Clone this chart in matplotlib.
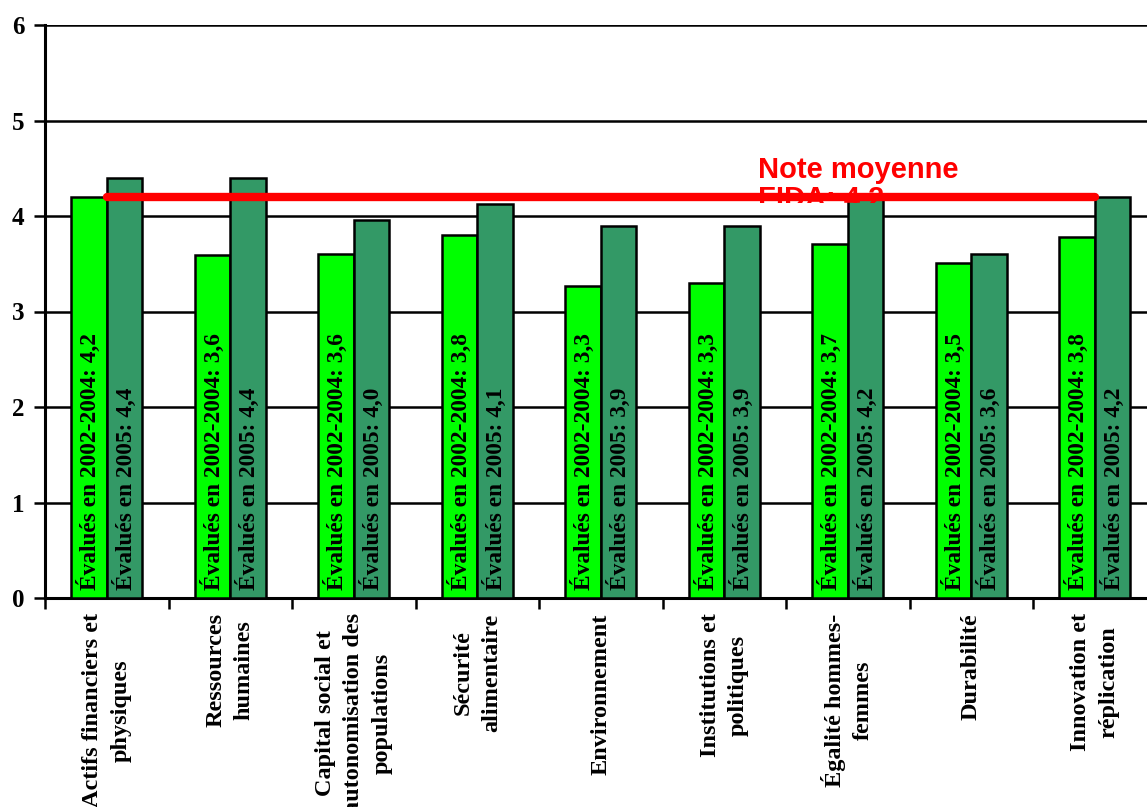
import matplotlib.pyplot as plt
import numpy as np
from matplotlib.transforms import Bbox, TransformedBbox

# Notes moyennes par critère d'évaluation
criteres = ["Actifs financiers et\nphysiques",
            "Ressources\nhumaines",
            "Capital social et\nautonomisation des\npopulations",
            "Sécurité\nalimentaire",
            "Environnement",
            "Institutions et\npolitiques",
            "Égalité hommes-\nfemmes",
            "Durabilité",
            "Innovation et\nréplication"]
notes_2002_2004 = [4.2, 3.59, 3.6, 3.8, 3.27, 3.3, 3.71, 3.51, 3.78]
notes_2005 = [4.4, 4.4, 3.96, 4.13, 3.9, 3.9, 4.2, 3.6, 4.2]
note_moyenne = 4.2

vert_clair = "#00FF00"
vert_fonce = "#339966"
serif = "Liberation Serif"

fig = plt.figure(figsize=(11.47, 8.07), dpi=100)
ax = fig.add_axes([45 / 1147, 209 / 807, 1111.5 / 1147, 573 / 807])

x = np.arange(len(criteres))
larg = 0.287

ax.bar(x - larg / 2, notes_2002_2004, larg, color=vert_clair,
       edgecolor="black", linewidth=1.8, zorder=3)
ax.bar(x + larg / 2, notes_2005, larg, color=vert_fonce,
       edgecolor="black", linewidth=1.8, zorder=3)

# Étiquettes verticales dans les barres
for xi, v in zip(x, notes_2002_2004):
    ax.text(xi - larg / 2, 0.08, f"Évalués en 2002-2004: {v:.1f}".replace(".", ","),
            rotation=90, ha="center", va="bottom", fontsize=16.8,
            fontweight="bold", family=serif, zorder=4)
for xi, v in zip(x, notes_2005):
    ax.text(xi + larg / 2, 0.08, f"Évalués en 2005: {v:.1f}".replace(".", ","),
            rotation=90, ha="center", va="bottom", fontsize=16.8,
            fontweight="bold", family=serif, zorder=4)

# Ligne de la note moyenne
ax.plot([x[0], x[-1]], [note_moyenne, note_moyenne], color="#FF0000",
        linewidth=6, solid_capstyle="round", zorder=6)
t = ax.text(5.27, note_moyenne + 0.43,
            "Note moyenne\nFIDA: " + f"{note_moyenne:.1f}".replace(".", ","),
            color="#FF0000", fontsize=21, fontweight="bold",
            family="Liberation Sans", ha="left", va="top",
            linespacing=1.05, zorder=5)
# la zone de texte coupe la deuxième ligne sous la ligne rouge
t.set_clip_box(TransformedBbox(Bbox([[-0.5, 4.14], [8.5, 6.0]]), ax.transData))
t.set_clip_on(True)

ax.set_xlim(-0.5, 8.5)
ax.set_ylim(0, 6)
ax.set_yticks(range(7))
ax.set_yticklabels([str(i) for i in range(7)], fontsize=18,
                   fontweight="bold", family=serif)
ax.yaxis.grid(True, color="black", linewidth=1.8, zorder=0)
ax.set_axisbelow(True)

ax.set_xticks(np.arange(-0.5, 9, 1))
ax.set_xticklabels([])
ax.set_xticks(x, minor=True)
ax.set_xticklabels(criteres, minor=True, rotation=90, fontsize=17.5,
                   fontweight="bold", family=serif, linespacing=1.45)
ax.tick_params(axis="x", which="minor", length=0, pad=11)
ax.tick_params(axis="x", which="major", length=8, width=1.8, direction="out")
ax.tick_params(axis="y", length=8, width=1.8, pad=7)

for s in ["top", "right"]:
    ax.spines[s].set_visible(False)
for s in ["left", "bottom"]:
    ax.spines[s].set_linewidth(2.2)

fig.savefig("out.png", dpi=100)
